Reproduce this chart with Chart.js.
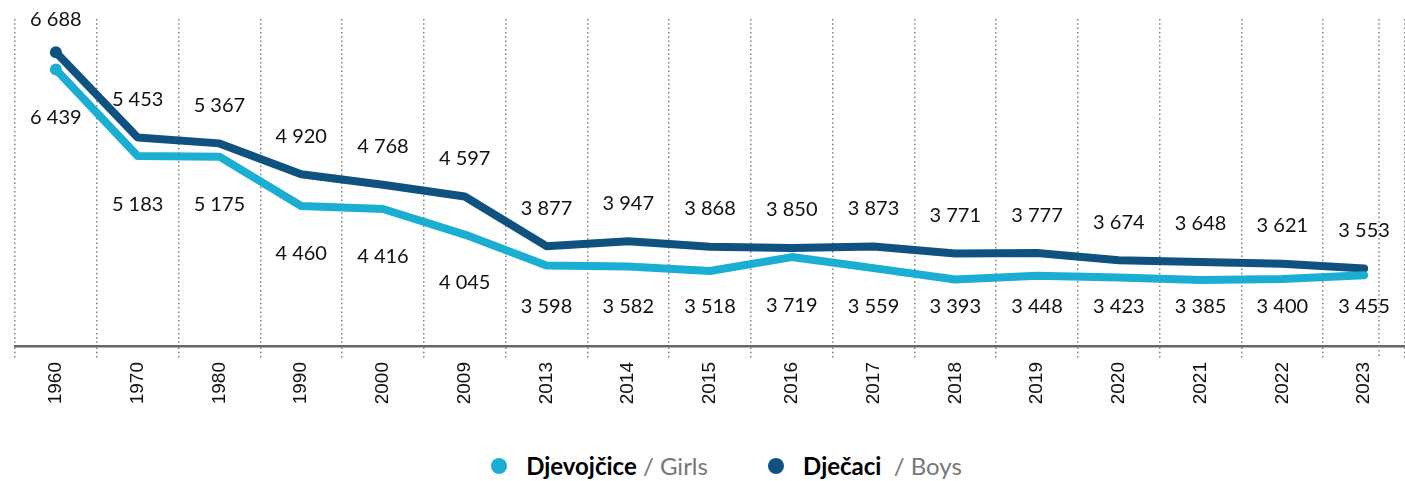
<!DOCTYPE html>
<html>
<head>
<meta charset="utf-8">
<script src="https://cdn.jsdelivr.net/npm/chart.js@4"></script>
<style>
  html, body { margin: 0; padding: 0; background: #fff; overflow: hidden; }
  #wrap { width: 1411px; height: 430px; position: relative; }
  #legend { width: 1405px; text-align: center; font-family: Lato, sans-serif; font-size: 24px; margin-top: 21px; padding-left: 48px; box-sizing: border-box; white-space: nowrap; }
  .item { display: inline-block; margin: 0 27px; }
  .dot { display: inline-block; width: 16px; height: 16px; border-radius: 50%; margin-right: 19px; vertical-align: 1px; }
  .sub { color: #777; }
</style>
</head>
<body>
<div id="wrap"><canvas id="chart"></canvas></div>
<div id="legend">
  <span class="item"><span class="dot" style="background:#1baed3"></span><b>Djevojčice</b> <span class="sub">/ Girls</span></span>
  <span class="item"><span class="dot" style="background:#10527f"></span><b>Dječaci</b>&nbsp; <span class="sub">/ Boys</span></span>
</div>
<script>
var years = ['1960', '1970', '1980', '1990', '2000', '2009', '2013', '2014', '2015', '2016', '2017', '2018', '2019', '2020', '2021', '2022', '2023'];
var girls = [6439, 5183, 5175, 4460, 4416, 4045, 3598, 3582, 3518, 3719, 3559, 3393, 3448, 3423, 3385, 3400, 3455];
var boys = [6688, 5453, 5367, 4920, 4768, 4597, 3877, 3947, 3868, 3850, 3873, 3771, 3777, 3674, 3648, 3621, 3553];

var girlsColor = '#1baed3';
var boysColor = '#10527f';

function fmt(n) {
    return String(n).replace(/\B(?=(\d{3})+(?!\d))/g, ' ');
}

// value labels: boys above the line, girls below (kept inside the plot)
var valueLabels = {
    id: 'valueLabels',
    afterDatasetsDraw: function (chart) {
        var ctx = chart.ctx;
        var area = chart.chartArea;
        ctx.save();
        ctx.font = '20px Lato';
        ctx.fillStyle = '#111';
        ctx.textAlign = 'center';
        ctx.textBaseline = 'middle';
        chart.data.datasets.forEach(function (ds, i) {
            var meta = chart.getDatasetMeta(i);
            var isBoys = ds.label === 'Dječaci';
            meta.data.forEach(function (pt, j) {
                var y = isBoys ? Math.max(pt.y - 38, area.top + 1) : Math.min(pt.y + 48, area.bottom - 39);
                ctx.fillText(fmt(ds.data[j]), pt.x, y);
            });
        });
        ctx.restore();
    }
};

// extra dotted line near the right edge, as in the original
var rightLine = {
    id: 'rightLine',
    beforeDatasetsDraw: function (chart) {
        var ctx = chart.ctx, a = chart.chartArea;
        ctx.save();
        ctx.strokeStyle = '#808080';
        ctx.lineWidth = 1.5;
        ctx.setLineDash([1.5, 2.8]);
        ctx.beginPath();
        ctx.moveTo(a.right - 26, a.top);
        ctx.lineTo(a.right - 26, a.bottom + 12);
        ctx.stroke();
        ctx.restore();
    }
};

var lineStyle = {
    borderWidth: 8,
    borderCapStyle: 'round',
    borderJoinStyle: 'round',
    tension: 0,
    pointRadius: function (c) { return c.dataIndex === 0 ? 6 : 0; },
    pointBorderWidth: 0,
    fill: false
};

new Chart(document.getElementById('chart'), {
    type: 'line',
    data: {
        labels: years,
        datasets: [
            Object.assign({ label: 'Djevojčice', data: girls, borderColor: girlsColor, backgroundColor: girlsColor }, lineStyle),
            Object.assign({ label: 'Dječaci', data: boys, borderColor: boysColor, backgroundColor: boysColor }, lineStyle)
        ]
    },
    options: {
        responsive: true,
        maintainAspectRatio: false,
        animation: false,
        layout: { padding: { left: 15, right: 0, top: 19, bottom: 0 } },
        plugins: {
            legend: { display: false },
            tooltip: { enabled: false }
        },
        scales: {
            x: {
                offset: true,
                grid: {
                    offset: true,
                    color: '#808080',
                    lineWidth: 1.5,
                    tickLength: 12,
                    tickBorderDash: [1.5, 2.8],
                    tickColor: '#808080',
                    tickWidth: 1.5
                },
                border: { display: true, color: '#666', width: 2.5, dash: [1.5, 2.8] },
                ticks: {
                    minRotation: 90,
                    maxRotation: 90,
                    padding: 4,
                    color: '#111',
                    font: { family: 'Liberation Sans', size: 19 }
                },
                afterFit: function (scale) { scale.height = 84; }
            },
            y: {
                display: false,
                min: 2430,
                max: 7170
            }
        }
    },
    plugins: [valueLabels, rightLine]
});
</script>
</body>
</html>
